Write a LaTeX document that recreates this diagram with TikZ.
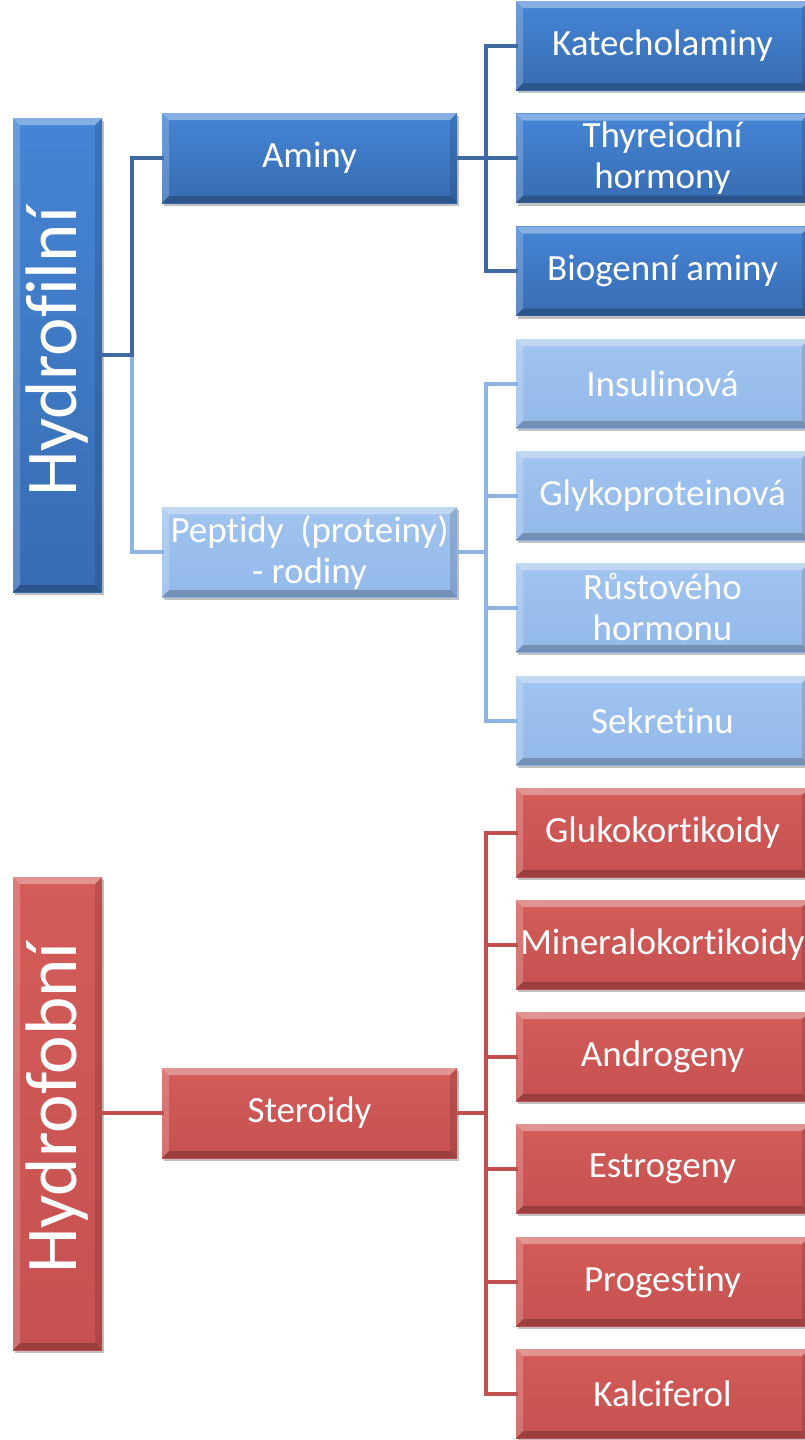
\documentclass[tikz,border=0pt]{standalone}
\usepackage{fontspec}
\setmainfont{Carlito}[Ligatures={NoCommon}]
\usetikzlibrary{shadows,calc}
\definecolor{dbTop}{HTML}{4585D5}
\definecolor{dbBot}{HTML}{386CB2}
\definecolor{lbTop}{HTML}{A1C4F0}
\definecolor{lbBot}{HTML}{93B9E9}
\definecolor{rdTop}{HTML}{D35C59}
\definecolor{rdBot}{HTML}{C65150}
\definecolor{dbLine}{HTML}{3E6AA1}
\definecolor{lbLine}{HTML}{8DB4E3}
\definecolor{rdLine}{HTML}{C0504D}
\tikzset{
  bevel/.style={path picture={
    \coordinate (pnw) at (path picture bounding box.north west);
    \coordinate (pne) at (path picture bounding box.north east);
    \coordinate (psw) at (path picture bounding box.south west);
    \coordinate (pse) at (path picture bounding box.south east);
    \fill[white,opacity=0.35] (pnw) -- (pne) -- ($(pne)+(-7pt,-7pt)$) -- ($(pnw)+(7pt,-7pt)$) -- cycle;
    \fill[white,opacity=0.2] (pnw) -- ($(pnw)+(7pt,-7pt)$) -- ($(psw)+(7pt,7pt)$) -- (psw) -- cycle;
    \fill[black,opacity=0.22] (psw) -- (pse) -- ($(pse)+(-7pt,7pt)$) -- ($(psw)+(7pt,7pt)$) -- cycle;
    \fill[black,opacity=0.12] (pne) -- (pse) -- ($(pse)+(-7pt,7pt)$) -- ($(pne)+(-7pt,-7pt)$) -- cycle;
  }},
  basebox/.style={draw=none, inner sep=0pt, text=white, align=center, bevel,
    drop shadow={shadow xshift=2pt, shadow yshift=-3pt, opacity=0.35, fill=black!70}},
  dbox/.style={basebox, top color=dbTop, bottom color=dbBot},
  lbox/.style={basebox, top color=lbTop, bottom color=lbBot},
  rbox/.style={basebox, top color=rdTop, bottom color=rdBot},
  side/.style={minimum width=89pt, minimum height=#1},
  midbox/.style={minimum width=295pt, minimum height=90pt, font=\fontsize{37}{41}\selectfont},
  leaf/.style={minimum width=293pt, minimum height=89pt, font=\fontsize{37}{41}\selectfont},
  vlabel/.style={rotate=90, text=white, font=\fontsize{73}{80}\selectfont},
  conn/.style={line width=4pt, line cap=rect},
  dline/.style={conn, draw=dbLine},
  lline/.style={conn, draw=lbLine},
  rline/.style={conn, draw=rdLine},
}
\begin{document}
\begin{tikzpicture}[x=1pt, y=-1pt]
\useasboundingbox (0,0) rectangle (804,1440);
\fill[white] (0,0) rectangle (804,1440);

% junctions
\coordinate (j1) at (132,355);
\coordinate (j2) at (486,158);
\coordinate (j3) at (486,552);
\coordinate (j4) at (486,1113);

% left column
\node[dbox, side=474pt] (hfil) at (57.5,355) {};
\node[vlabel] (hfilT) at (57.5,352) {Hydrofilní};
\node[rbox, side=473pt] (hfob) at (57.5,1113.5) {};
\node[vlabel] (hfobT) at (57.5,1108) {Hydrofobní};

% middle column
\node[dbox, midbox] (aminy) at (309.5,158) {Aminy};
\node[lbox, midbox] (pept) at (309.5,552) {Peptidy\ \ (proteiny)\\- rodiny};
\node[rbox, midbox] (ster) at (309.5,1113) {Steroidy};

% connectors (drawn before right boxes)
\draw[lline] (j1) |- (pept.west);
\draw[dline] (hfil.east) -- (j1) |- (aminy.west);
\draw[rline] (hfob.east |- ster.west) -- (ster.west);

% right column boxes
\node[dbox, leaf] (kat) at (662.5,45.5) {Katecholaminy};
\node[dbox, leaf] (thy) at (662.5,158) {Thyreiodní\\hormony};
\node[dbox, leaf] (bio) at (662.5,271) {Biogenní aminy};
\node[lbox, leaf] (ins) at (662.5,383.5) {Insulinová};
\node[lbox, leaf] (gly) at (662.5,495.5) {Glykoproteinová};
\node[lbox, leaf] (rus) at (662.5,607.5) {Růstového\\hormonu};
\node[lbox, leaf] (sek) at (662.5,720.5) {Sekretinu};
\node[rbox, leaf] (glu) at (662.5,832.5) {Glukokortikoidy};
\node[rbox, leaf] (min) at (662.5,944.5) {Mineralokortikoidy};
\node[rbox, leaf] (andr) at (662.5,1056.5) {Androgeny};
\node[rbox, leaf] (est) at (662.5,1168.5) {Estrogeny};
\node[rbox, leaf] (pro) at (662.5,1281.5) {Progestiny};
\node[rbox, leaf] (kal) at (662.5,1393.5) {Kalciferol};

% connectors to leaves
\draw[dline] (aminy.east) -- (j2);
\draw[dline] (j2) |- (kat.west);
\draw[dline] (j2) |- (thy.west);
\draw[dline] (j2) |- (bio.west);

\draw[lline] (pept.east) -- (j3);
\draw[lline] (j3) |- (ins.west);
\draw[lline] (j3) |- (gly.west);
\draw[lline] (j3) |- (rus.west);
\draw[lline] (j3) |- (sek.west);

\draw[rline] (ster.east) -- (j4);
\draw[rline] (j4) |- (glu.west);
\draw[rline] (j4) |- (min.west);
\draw[rline] (j4) |- (andr.west);
\draw[rline] (j4) |- (est.west);
\draw[rline] (j4) |- (pro.west);
\draw[rline] (j4) |- (kal.west);
\end{tikzpicture}
\end{document}
